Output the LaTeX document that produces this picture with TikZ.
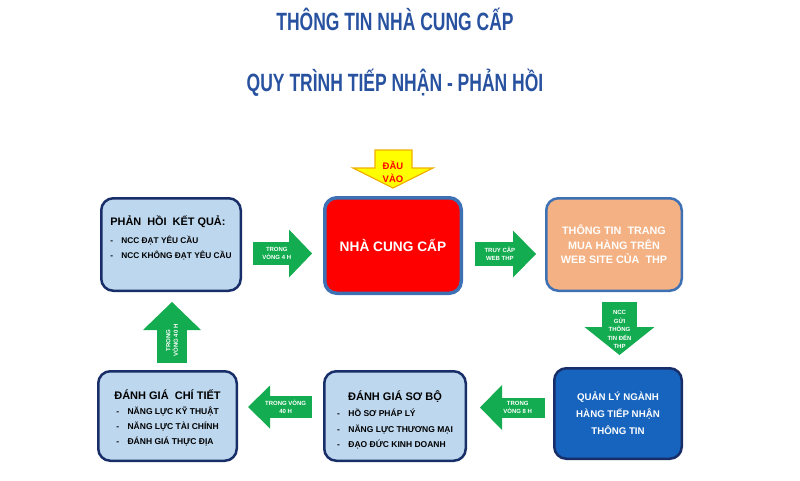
\documentclass[tikz,border=0pt]{standalone}
\usepackage{fontspec}
\setmainfont{Liberation Sans}
\newfontfamily\titlefont[FakeStretch=0.7]{Liberation Sans}
\usetikzlibrary{arrows.meta}

\definecolor{titleblue}{RGB}{40,82,160}
\definecolor{paleblue}{RGB}{189,215,238}
\definecolor{navy}{RGB}{24,46,104}
\definecolor{edgeblue}{RGB}{62,112,180}
\definecolor{peach}{RGB}{244,177,131}
\definecolor{deepblue}{RGB}{22,100,190}
\definecolor{flowgreen}{RGB}{20,172,80}
\definecolor{inyellow}{RGB}{255,255,0}
\definecolor{inedge}{RGB}{240,176,0}

\begin{document}
\begin{tikzpicture}[x=1pt, y=-1pt,
        box/.style={draw, rounded corners=12pt, line width=2.5pt, inner sep=0pt, align=center, font=\bfseries},
        boxtext/.style={align=center, inner sep=0pt, font=\bfseries},
        flow/.style n args={3}{draw=flowgreen, line width=#1, -{Triangle[width=#2, length=#3, line width=0pt]}},
        lbl/.style={text=white, align=center, inner sep=0pt, font=\bfseries\fontsize{6}{7.5}\selectfont}]
        \useasboundingbox (0,0) rectangle (800,480);

        % title
        \node[anchor=base, text=titleblue, font=\titlefont\bfseries\fontsize{25}{30}\selectfont] (title) at (395,30) {THÔNG TIN NHÀ CUNG CẤP};
        \node[anchor=base, text=titleblue, font=\titlefont\bfseries\fontsize{25}{30}\selectfont] (subtitle) at (395,91) {QUY TRÌNH TIẾP NHẬN - PHẢN HỒI};

        % boxes
        \node[box, fill=paleblue, draw=navy, minimum width=139.5pt, minimum height=92.5pt] (fb) at (171,244.5) {};
        \node[boxtext, align=left, font=\bfseries\fontsize{8.3}{15}\selectfont] (fbtext) at (171,238) {{\fontsize{10.9}{12}\selectfont PHẢN\ \ HỒI\ \ KẾT QUẢ:}\\[3pt] -\quad NCC ĐẠT YÊU CẦU\\ -\quad NCC KHÔNG ĐẠT YÊU CẦU};
        \node[box, fill=red, draw=edgeblue, line width=3.5pt, text=white, minimum width=136.5pt, minimum height=95.5pt, font=\bfseries\fontsize{13.7}{16}\selectfont] (ncc) at (393,245.5) {NHÀ CUNG CẤP};
        \node[box, fill=peach, draw=edgeblue, text=white, minimum width=135.5pt, minimum height=92.5pt, font=\bfseries\fontsize{10.8}{14.5}\selectfont] (web) at (614,244.5) {THÔNG TIN\ \ TRANG\\MUA HÀNG TRÊN\\WEB SITE CỦA\ \ THP};
        \node[box, fill=deepblue, draw=navy, text=white, minimum width=127.5pt, minimum height=90.5pt, font=\bfseries\fontsize{9.7}{17}\selectfont] (ql) at (618,413.5) {QUẢN LÝ NGÀNH\\HÀNG TIẾP NHẬN\\THÔNG TIN};
        \node[box, fill=paleblue, draw=navy, minimum width=141.5pt, minimum height=89.5pt] (sb) at (395,416) {};
        \node[boxtext] (sbtext) at (395,421.5) {{\fontsize{11}{13}\selectfont ĐÁNH GIÁ SƠ BỘ}\\[2pt] {\fontsize{8.5}{15.5}\selectfont\begin{tabular}[t]{@{}l@{}}-\quad HỒ SƠ PHÁP LÝ\\-\quad NĂNG LỰC THƯƠNG MẠI\\-\quad ĐẠO ĐỨC KINH DOANH\end{tabular}}};
        \node[box, fill=paleblue, draw=navy, minimum width=138.5pt, minimum height=89.5pt] (ct) at (167.5,416) {};
        \node[boxtext] (cttext) at (167.5,419.5) {{\fontsize{11}{13}\selectfont ĐÁNH GIÁ\ \ CHÍ TIẾT}\\[3pt] {\fontsize{8.5}{15}\selectfont\begin{tabular}[t]{@{}l@{}}-\quad NĂNG LỰC KỸ THUẬT\\-\quad NĂNG LỰC TÀI CHÍNH\\-\quad ĐÁNH GIÁ THỰC ĐỊA\end{tabular}}};

        % input arrow
        \draw[draw=inedge, fill=inyellow, line width=1.2pt] ([yshift=8pt]ncc.north) -- ++(40,-20) -- ++(-21,0) -- ++(0,-18) -- ++(-37,0) -- ++(0,18) -- ++(-22,0) -- cycle;
        \node[text=red, align=center, inner sep=0pt, font=\bfseries\fontsize{9.5}{13}\selectfont] (dauvao) at (393,171.5) {ĐẦU\\VÀO};

        % flow arrows
        \draw[flow={23pt}{48pt}{23pt}, shorten <=11pt, shorten >=11pt] ([yshift=-9pt]fb.east) -- node[lbl, pos=.43] (t4h) {TRONG\\VÒNG 4 H} ([yshift=-8pt]ncc.west);
        \draw[flow={24pt}{47pt}{23pt}, shorten <=12pt, shorten >=9pt] ([yshift=-8.5pt]ncc.east) -- node[lbl, pos=.45] (truycap) {TRUY CẬP\\WEB THP} ([yshift=-9.5pt]web.west);
        \draw[flow={35pt}{70pt}{28pt}, shorten <=10pt, shorten >=12pt] ([xshift=5.5pt]web.south) -- node[lbl, pos=.5, font=\bfseries\fontsize{6}{8.5}\selectfont] (gui) {NCC\\GỬI\\THÔNG\\TIN ĐẾN\\THP} ([xshift=1.5pt]ql.north);
        \draw[flow={20pt}{45pt}{22pt}, shorten <=8pt, shorten >=13pt] ([yshift=6pt]ql.west) -- node[lbl, pos=.41] (t8h) {TRONG\\VÒNG 8 H} ([yshift=8.5pt]sb.east);
        \draw[flow={22pt}{43pt}{22pt}, shorten <=11pt, shorten >=10pt] ([yshift=9pt]sb.west) -- node[lbl, pos=.44] (t40h) {TRONG VÒNG\\40 H} ([yshift=9pt]ct.east);
        \draw[flow={30pt}{58pt}{28pt}, shorten <=7pt, shorten >=10pt] ([xshift=4.5pt]ct.north) -- node[lbl, pos=.38, rotate=90] (t40hb) {TRONG\\VÒNG 40 H} ([xshift=1pt]fb.south);
\end{tikzpicture}
\end{document}
